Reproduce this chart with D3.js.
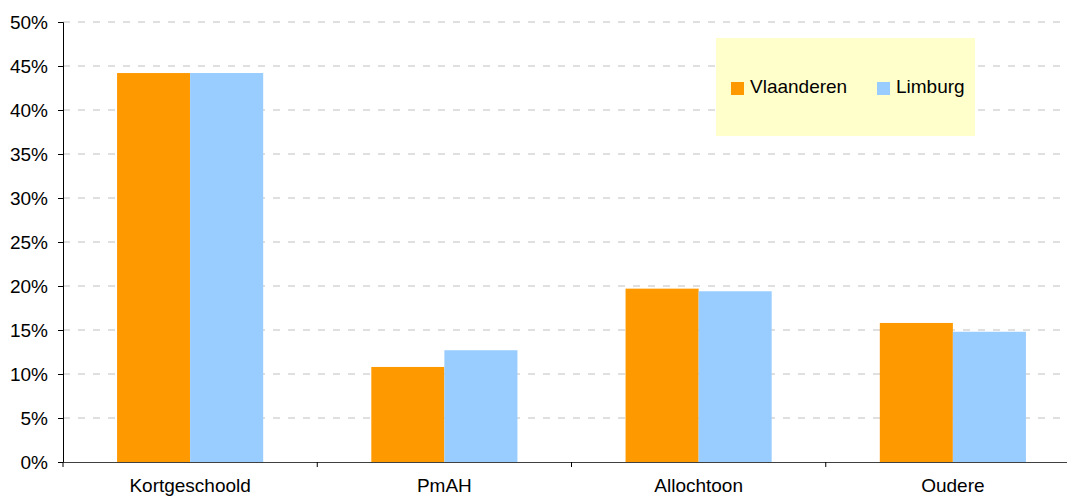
<!DOCTYPE html>
<html>
<head>
<meta charset="utf-8">
<script src="https://cdn.jsdelivr.net/npm/d3@7"></script>
<style>
  body { margin: 0; background: #fff; }
  text { font-family: "Liberation Sans", Arial, sans-serif; }
</style>
</head>
<body>
<div id="chart"></div>
<script>
const categories = ['Kortgeschoold', 'PmAH', 'Allochtoon', 'Oudere'];
const series = ['Vlaanderen', 'Limburg'];
const vlaanderen = [44.2, 10.8, 19.7, 15.8];
const limburg = [44.2, 12.7, 19.4, 14.8];
const yTicks = [0, 5, 10, 15, 20, 25, 30, 35, 40, 45, 50];
const colors = ['#FF9900', '#99CCFF'];

const width = 1067, height = 497;
const svg = d3.select('#chart').append('svg')
    .attr('width', width)
    .attr('height', height);

const plotLeft = 63, plotTop = 22, plotBottom = 462, plotRight = 1080;

const y = d3.scaleLinear().domain([0, 50]).range([plotBottom, plotTop]);
const x0 = d3.scaleBand().domain(categories).range([plotLeft, plotRight]);
const x1 = d3.scaleBand().domain(series).range([0, x0.bandwidth()]).paddingOuter(0.74);

// dashed gridlines
svg.append('g')
    .selectAll('line')
    .data(yTicks.filter(d => d > 0))
    .join('line')
    .attr('x1', plotLeft)
    .attr('x2', plotRight)
    .attr('y1', d => y(d))
    .attr('y2', d => y(d))
    .attr('stroke', '#c0c0c0')
    .attr('stroke-width', 1)
    .attr('stroke-dasharray', '7,8');

// bars
const rows = categories.map((c, i) => ({cat: c, vals: [vlaanderen[i], limburg[i]]}));
svg.append('g')
    .selectAll('g')
    .data(rows)
    .join('g')
    .attr('transform', d => `translate(${x0(d.cat)},0)`)
    .selectAll('rect')
    .data(d => d.vals.map((v, j) => ({key: series[j], v: v, c: colors[j]})))
    .join('rect')
    .attr('x', d => x1(d.key))
    .attr('width', x1.bandwidth())
    .attr('y', d => y(d.v))
    .attr('height', d => plotBottom - y(d.v))
    .attr('fill', d => d.c);

// y axis
const yAxis = svg.append('g')
    .attr('transform', `translate(${plotLeft},0)`)
    .call(d3.axisLeft(y).tickValues(yTicks).tickSize(5).tickPadding(10).tickFormat(d => d + '%'));
yAxis.select('.domain').attr('stroke', '#000');
yAxis.selectAll('.tick line').attr('stroke', '#000');
yAxis.selectAll('.tick text')
    .attr('font-size', 19)
    .attr('fill', '#000')
    .style('font-family', '"Liberation Sans", Arial, sans-serif');

// x axis
const xAxis = svg.append('g')
    .attr('transform', `translate(0,${plotBottom})`)
    .call(d3.axisBottom(x0).tickSize(0).tickPadding(0));
xAxis.select('.domain').attr('stroke', '#404040').attr('stroke-width', 1.2);
xAxis.selectAll('.tick text')
    .attr('font-size', 19)
    .attr('fill', '#000')
    .attr('dy', 0)
    .attr('y', 30)
    .style('font-family', '"Liberation Sans", Arial, sans-serif');

// category separator ticks
svg.append('g')
    .selectAll('line')
    .data(categories)
    .join('line')
    .attr('x1', d => x0(d))
    .attr('x2', d => x0(d))
    .attr('y1', plotBottom)
    .attr('y2', plotBottom + 5)
    .attr('stroke', '#000');

// legend
const legend = svg.append('g').attr('transform', 'translate(716,38)');
legend.append('rect')
    .attr('width', 259)
    .attr('height', 98)
    .attr('fill', '#FFFFCC');
const legendX = [15, 161];
series.forEach((s, i) => {
    const g = legend.append('g').attr('transform', `translate(${legendX[i]},44)`);
    g.append('rect')
        .attr('width', 13)
        .attr('height', 13)
        .attr('fill', colors[i]);
    g.append('text')
        .attr('x', 19)
        .attr('y', 11)
        .attr('font-size', 19)
        .attr('fill', '#000')
        .text(s);
});
</script>
</body>
</html>
